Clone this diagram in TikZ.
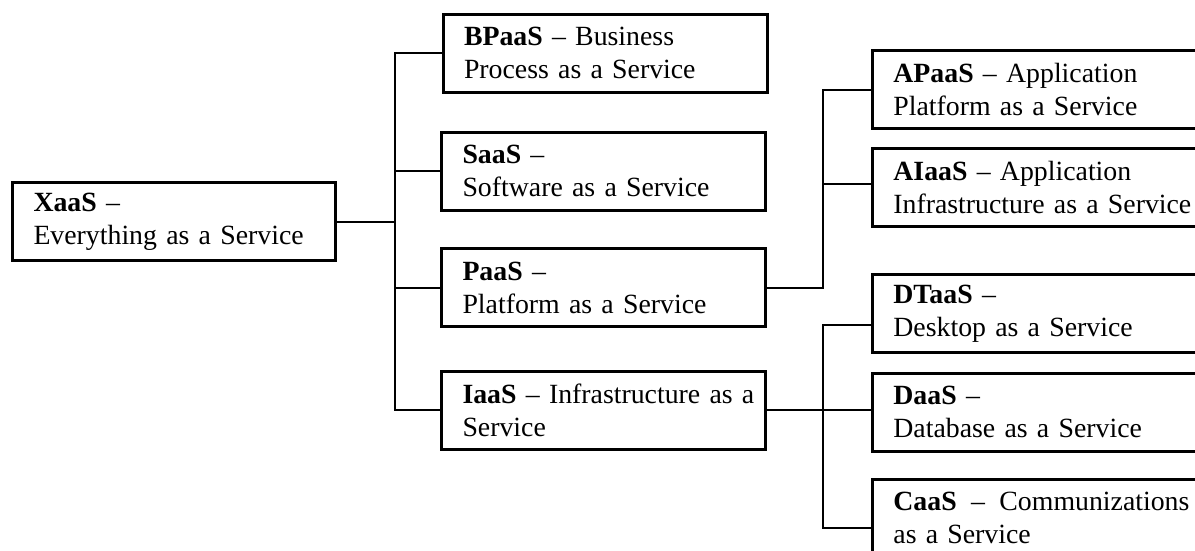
\documentclass[tikz,border=0pt]{standalone}
\usepackage{fontspec}
\setmainfont{Liberation Serif}
\begin{document}
\begin{tikzpicture}[x=1pt,y=-1pt,
  box/.style={draw, line width=3pt, rectangle, minimum height=78pt,
    inner xsep=0pt, inner ysep=0pt, align=left,
    font=\fontsize{27.8}{33}\selectfont},
  midbox/.style={box, minimum width=324pt, text width=282pt},
  rbox/.style={box, minimum width=352pt, text width=310pt},
  link/.style={line width=2pt}]
\useasboundingbox (0,0) rectangle (1195,550);
\clip (0,0) rectangle (1195,550);

% root
\node[box, minimum width=323pt, text width=281pt] (xaas) at (174,221.5)
  {\textbf{XaaS} –\\Everything as a Service};

% second level
\node[midbox] (bpaas) at (605,53)    {\textbf{BPaaS} – Business\\Process as a Service};
\node[midbox] (saas)  at (603.5,171) {\textbf{SaaS} –\\Software as a Service};
\node[midbox] (paas)  at (603.5,287.5) {\textbf{PaaS} –\\Platform as a Service};
\node[midbox] (iaas)  at (603.5,410) {\mbox{\textbf{IaaS} – Infrastructure as a}\\Service};

% third level
\node[rbox] (apaas) at (1048.4,89.5) {\textbf{APaaS} – Application\\Platform as a Service};
\node[rbox] (aiaas) at (1048.4,187)  {\textbf{AIaaS} – Application\\\mbox{Infrastructure as a Service}};
\node[rbox] (dtaas) at (1048.4,313.5) {\textbf{DTaaS} –\\Desktop as a Service};
\node[rbox] (daas)  at (1048.4,412)  {\textbf{DaaS} –\\Database as a Service};
\node[rbox] (caas)  at (1048.4,518)
  {\makebox[296pt][l]{\textbf{CaaS}\hfill–\hfill Communizations}\\as a Service};

% trunk lines
\coordinate (ltrunk) at (395,0);
\coordinate (rtrunk) at (823,0);

\draw[link] (xaas.east) -- (xaas.east -| ltrunk);
\draw[link] (bpaas.west) -- (bpaas.west -| ltrunk) -- (iaas.west -| ltrunk) -- (iaas.west);
\draw[link] (saas.west) -- (saas.west -| ltrunk);
\draw[link] (paas.west) -- (paas.west -| ltrunk);

\draw[link] (paas.east) -- (paas.east -| rtrunk) -- (apaas.west -| rtrunk) -- (apaas.west);
\coordinate (ai) at ([yshift=3pt]aiaas.west);
\draw[link] (ai) -- (ai -| rtrunk);

\draw[link] (iaas.east) -- (iaas.east -| daas.west);
\coordinate (dt) at ([yshift=-11pt]dtaas.west);
\coordinate (ca) at ([yshift=-10pt]caas.west);
\draw[link] (dt) -- (dt -| rtrunk) -- (ca -| rtrunk) -- (ca);
\end{tikzpicture}
\end{document}
